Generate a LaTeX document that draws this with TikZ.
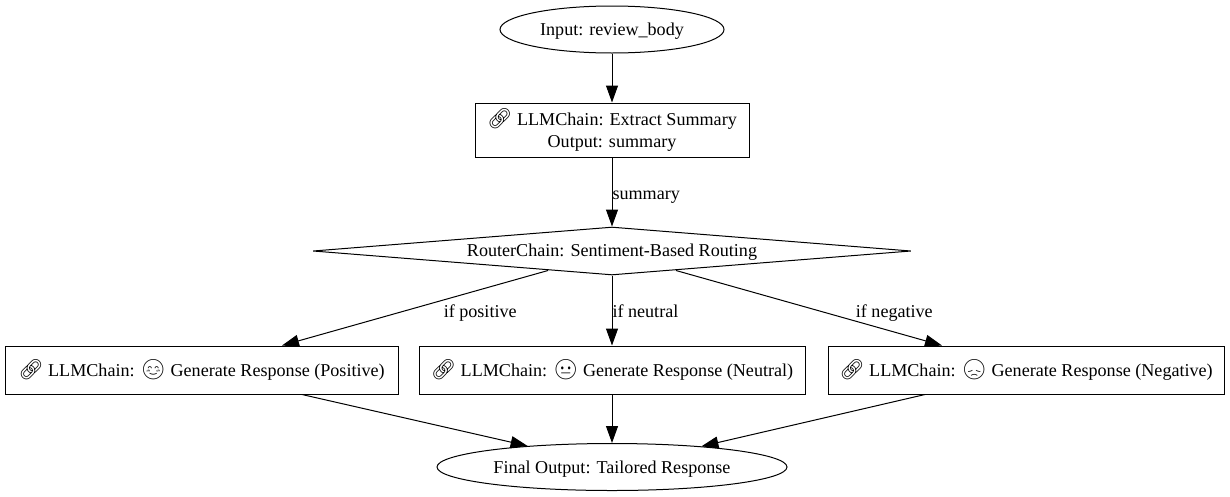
\documentclass[tikz,border=0pt]{standalone}
\usepackage{fontspec}
\setmainfont{Liberation Serif}
\newfontfamily\emojifont{Noto Emoji}
\usetikzlibrary{arrows.meta,shapes.geometric}
\newcommand{\chainicon}{{\emojifont\fontsize{20}{20}\selectfont\symbol{"1F517}}}
\newcommand{\faceicon}[1]{{\emojifont\fontsize{20}{20}\selectfont\symbol{#1}}}

\tikzset{
	graphnode/.style={draw,line width=1pt,inner sep=0pt,align=center,font=\fontsize{18.1}{22}\selectfont},
	startend/.style={graphnode,ellipse,text depth=0pt},
	chainbox/.style={graphnode,rectangle,minimum height=48pt},
	routerbox/.style={graphnode,diamond,aspect=12.46,minimum width=598pt,minimum height=48pt,text depth=1.5pt},
	edgetext/.style={inner sep=0pt,font=\fontsize{18.1}{20}\selectfont},
	flow/.style={line width=1pt,-{Triangle[length=17pt,width=12pt]}}
}

\begin{document}
\begin{tikzpicture}[x=1pt,y=-1pt]
	\useasboundingbox (0,0) rectangle (1230,496);
	% nodes
	\node[startend,minimum width=224pt,minimum height=47pt] (input) at (612,29.5) {Input: review\_body};
	\node[chainbox,minimum width=274pt,minimum height=54pt] (extract) at (612,130) {\chainicon{} LLMChain: Extract Summary\\Output: summary};
	\node[routerbox] (router) at (612,251) {RouterChain: Sentiment-Based Routing};
	\node[chainbox,minimum width=393pt] (positive) at (201.5,370) {\chainicon{} LLMChain: \faceicon{"1F60A} Generate Response (Positive)};
	\node[chainbox,minimum width=386pt] (neutral) at (612,370) {\chainicon{} LLMChain: \faceicon{"1F610} Generate Response (Neutral)};
	\node[chainbox,minimum width=396pt] (negative) at (1026,370) {\chainicon{} LLMChain: \faceicon{"1F61E} Generate Response (Negative)};
	\node[startend,minimum width=350pt,minimum height=47pt] (final) at (612,467) {Final Output: Tailored Response};
	% edges
	\draw[flow] (input) -- (extract);
	\draw[flow] (extract) -- node[edgetext,right,pos=.51,yshift=-4pt] (lblsummary) {summary} (router);
	\draw[flow] ([xshift=-64pt,yshift=5pt]router.south) -- node[edgetext,pos=.55,xshift=78.5pt,yshift=-1pt] (lblpositive) {if positive} ([xshift=80.5pt]positive.north);
	\draw[flow] (router) -- node[edgetext,right,pos=.5,yshift=-1pt] (lblneutral) {if neutral} (neutral);
	\draw[flow] ([xshift=64pt,yshift=5pt]router.south) -- node[edgetext,pos=.55,xshift=72pt,yshift=-1pt] (lblnegative) {if negative} ([xshift=-84pt]negative.north);
	\draw[flow] ([xshift=100.5pt]positive.south) -- (final.166.2);
	\draw[flow] (neutral) -- (final);
	\draw[flow] ([xshift=-101pt]negative.south) -- (final.13);
\end{tikzpicture}
\end{document}
